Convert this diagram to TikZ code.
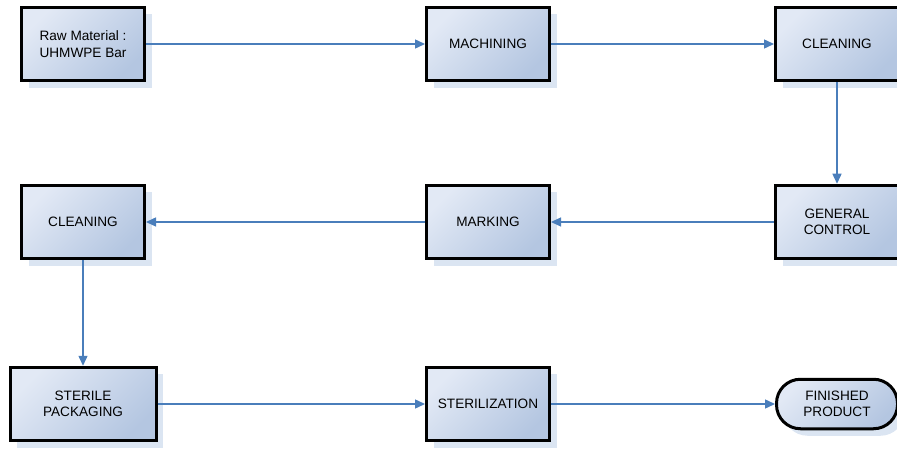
\documentclass[tikz,border=0pt]{standalone}
\usepackage{fontspec}
\setmainfont{Liberation Sans}
\usetikzlibrary{arrows.meta,shadows}
\definecolor{clair}{RGB}{226,233,245}
\definecolor{fonce}{RGB}{180,198,225}
\definecolor{ombre}{RGB}{219,229,242}
\definecolor{bleufleche}{RGB}{74,126,187}

\begin{document}
\begin{tikzpicture}[x=1pt,y=-1pt]
\tikzset{etape/.style={draw, line width=3pt, align=center, inner sep=2pt,
    minimum width=123pt, minimum height=73.5pt,
    left color=clair, right color=fonce, shading angle=45,
    general shadow={fill=ombre, draw=none, shadow xshift=7pt, shadow yshift=-7pt},
    font=\fontsize{13.6}{16.5}\selectfont},
  fleche/.style={draw=bleufleche, line width=1.4pt, -{Triangle[length=10pt,width=9pt]}}}
\useasboundingbox (0,0) rectangle (897,449);
\node[etape] (E1) at (83,44) {Raw Material :\\UHMWPE Bar};
\node[etape] (E2) at (488,44) {MACHINING};
\node[etape] (E3) at (837,44) {CLEANING};
\node[etape] (E4) at (837,222) {GENERAL\\CONTROL};
\node[etape] (E5) at (488,222) {MARKING};
\node[etape] (E6) at (83,222) {CLEANING};
\node[etape, minimum width=146pt] (E7) at (83,404) {STERILE\\PACKAGING};
\node[etape] (E8) at (488,404) {STERILIZATION};
\node[etape, minimum height=49.5pt, minimum width=121pt, rounded corners=24pt] (E9) at (837,404) {FINISHED\\PRODUCT};
\draw[fleche] (E1) -- (E2);
\draw[fleche] (E2) -- (E3);
\draw[fleche] (E3) -- (E4);
\draw[fleche] (E4) -- (E5);
\draw[fleche] (E5) -- (E6);
\draw[fleche] (E6) -- (E7);
\draw[fleche] (E7) -- (E8);
\draw[fleche] (E8) -- (E9);
\end{tikzpicture}
\end{document}
